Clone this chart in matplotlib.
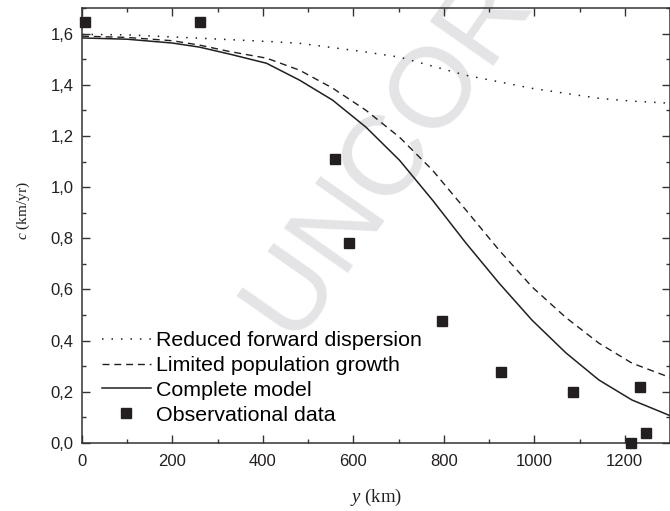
import matplotlib
matplotlib.use("Agg")
import matplotlib.pyplot as plt
from matplotlib.ticker import MultipleLocator, FuncFormatter

INK = "#231f20"

# observational data
obs_y = [7, 260, 560, 591, 796, 927, 1085, 1213, 1233, 1246]
obs_c = [1.645, 1.645, 1.11, 0.78, 0.477, 0.277, 0.20, 0.0, 0.22, 0.04]

# model curves
y_full = [0, 100, 200, 260, 326, 408, 481, 554, 628, 702, 775, 849, 922, 995, 1070, 1143, 1216, 1300]
c_full = [1.583, 1.578, 1.563, 1.547, 1.52, 1.484, 1.418, 1.34, 1.234, 1.105, 0.949, 0.781,
          0.625, 0.48, 0.352, 0.246, 0.168, 0.107]

y_lim = [0, 100, 200, 260, 326, 408, 481, 554, 628, 702, 775, 849, 922, 995, 1070, 1143, 1216, 1300]
c_lim = [1.59, 1.585, 1.572, 1.555, 1.53, 1.504, 1.457, 1.387, 1.30, 1.195, 1.066, 0.91,
         0.754, 0.61, 0.49, 0.39, 0.312, 0.256]

y_red = [0, 100, 260, 425, 481, 620, 702, 849, 995, 1143, 1216, 1300]
c_red = [1.597, 1.595, 1.582, 1.568, 1.562, 1.53, 1.508, 1.437, 1.386, 1.347, 1.336, 1.328]

plt.rcParams.update({"font.family": ["Liberation Sans", "DejaVu Sans"], "axes.linewidth": 1.1,
                     "axes.edgecolor": "#333333", "mathtext.fontset": "custom",
                     "mathtext.rm": "Liberation Serif", "mathtext.it": "Liberation Serif:italic"})

fig = plt.figure(figsize=(6.70, 5.11), dpi=100)
ax = fig.add_axes([82 / 670, 1 - 443 / 511, 1 - 82 / 670, 435 / 511])
ax.set_zorder(2)
ax.set_facecolor("none")

# proof watermark behind the plot
fig.text(296 / 670, 1 - 347 / 511, "UNCORRECTED PROOF", fontsize=82, color="#e4e4e6",
         rotation=55, rotation_mode="anchor", ha="left", va="baseline", zorder=1)

ax.plot(y_red, c_red, color=INK, lw=1.1, ls=(0, (1, 5.2)), label="Reduced forward dispersion")
ax.plot(y_lim, c_lim, color=INK, lw=1.0, ls=(0, (5, 3.5)), label="Limited population growth")
ax.plot(y_full, c_full, color=INK, lw=1.1, label="Complete model")
ax.plot(obs_y, obs_c, "s", color=INK, ms=7.5, ls="none", label="Observational data",
        clip_on=False, zorder=5)

ax.set_xlim(0, 1300)
ax.set_ylim(0, 1.70)
ax.xaxis.set_major_locator(MultipleLocator(200))
ax.xaxis.set_minor_locator(MultipleLocator(100))
ax.yaxis.set_major_locator(MultipleLocator(0.2))
ax.yaxis.set_minor_locator(MultipleLocator(0.1))
ax.yaxis.set_major_formatter(FuncFormatter(lambda v, p: f"{v:.1f}".replace(".", ",")))
ax.tick_params(which="both", direction="in", top=True, right=True, labelsize=12,
               colors="#333333", labelcolor=INK, width=1.0)
ax.tick_params(which="major", length=6)
ax.tick_params(axis="x", which="major", pad=8)
ax.tick_params(axis="y", which="major", pad=6)
ax.tick_params(which="minor", length=3)

ax.set_xlabel(r"$\mathit{y}$ (km)", family="Liberation Serif", fontsize=13.5, color=INK)
ax.xaxis.set_label_coords(0.5, -0.1)
ax.set_ylabel(r"$\mathit{c}$ (km/yr)", family="Liberation Serif", fontsize=11, color=INK)
ax.yaxis.set_label_coords(-0.085, 0.535)

ax.legend(loc="lower left", bbox_to_anchor=(0.008, 0.008), frameon=False, fontsize=15.4,
          handlelength=2.3, handletextpad=0.25, labelspacing=0.27, borderaxespad=0.3)

fig.savefig("out.png", dpi=100)
